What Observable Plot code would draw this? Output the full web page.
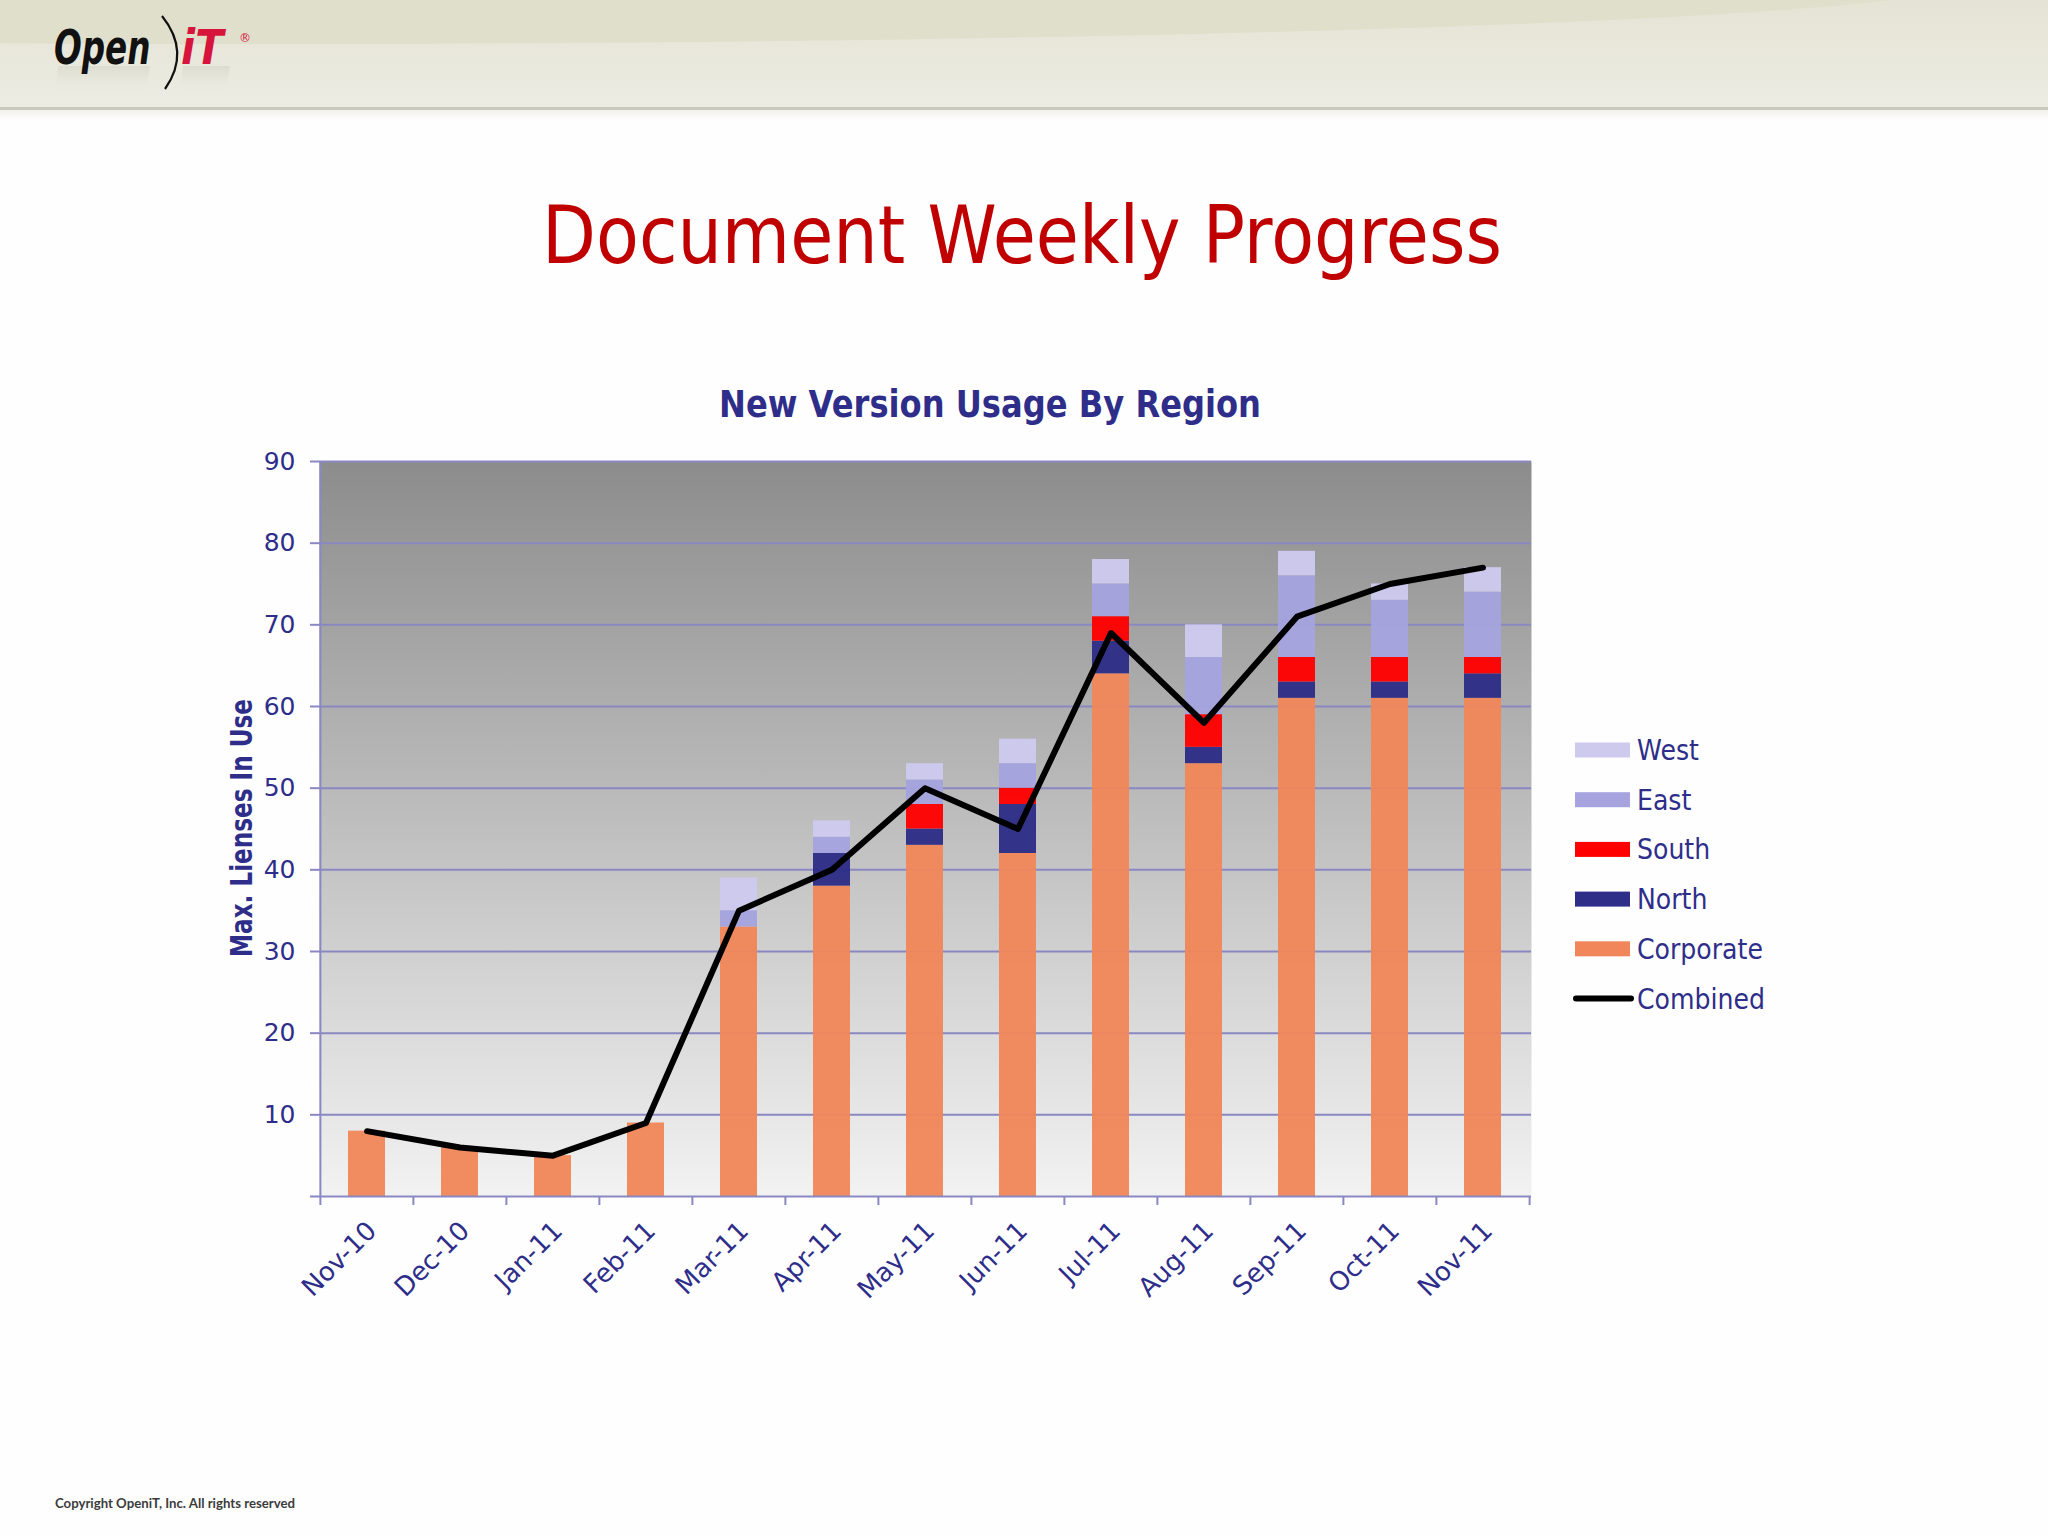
<!DOCTYPE html>
<html>
<head>
<meta charset="utf-8">
<script src="https://cdn.jsdelivr.net/npm/d3@7"></script>
<script src="https://cdn.jsdelivr.net/npm/@observablehq/plot@0.6"></script>
<style>
  html, body { margin: 0; padding: 0; }
  body { width: 2048px; height: 1536px; position: relative; background: #fefefe; overflow: hidden; font-family: "DejaVu Sans", sans-serif; }
  #overlay { position: absolute; left: 0; top: 0; z-index: 0; }
  #chart { position: absolute; left: 0; top: 440px; z-index: 1; }
</style>
</head>
<body>
<svg id="overlay" width="2048" height="1536" xmlns="http://www.w3.org/2000/svg">
  <defs>
    <linearGradient id="hdr" x1="0" y1="0" x2="0" y2="1">
      <stop offset="0" stop-color="#e4e3d4"/>
      <stop offset="1" stop-color="#edece3"/>
    </linearGradient>
    <linearGradient id="hdrShadow" x1="0" y1="0" x2="0" y2="1">
      <stop offset="0" stop-color="#f2f1ea"/>
      <stop offset="1" stop-color="#fefefe"/>
    </linearGradient>
    <linearGradient id="reflect" x1="0" y1="0" x2="0" y2="1">
      <stop offset="0" stop-color="#c4c3b8" stop-opacity="0.35"/>
      <stop offset="1" stop-color="#e9e8de" stop-opacity="0"/>
    </linearGradient>
    <clipPath id="hclip"><rect x="0" y="0" width="2048" height="108"/></clipPath>
  </defs>
  <rect x="0" y="0" width="2048" height="108" fill="url(#hdr)"/>
  <ellipse cx="250" cy="-16" rx="1700" ry="60" fill="#dfdfcb" clip-path="url(#hclip)"/>
  <rect x="0" y="107" width="2048" height="3" fill="#c9c8bd"/>
  <rect x="0" y="110" width="2048" height="10" fill="url(#hdrShadow)"/>
  <!-- logo -->
  <path d="M58 66 H150 L146 92 H56 Z M183 66 H230 L226 92 H180 Z" fill="url(#reflect)"/>
  <g id="logo">
    <g transform="translate(54,64) scale(0.68,1)">
      <text font-family="DejaVu Sans" font-weight="bold" font-style="italic" font-size="48" fill="#111">Open</text>
    </g>
    <path d="M162 16 Q 191 52 165 89" fill="none" stroke="#111" stroke-width="2.2"/>
    <g transform="translate(181,64) scale(0.86,1)">
      <text font-family="DejaVu Sans" font-weight="bold" font-style="italic" font-size="48" fill="#d7143c">iT</text>
    </g>
    <text x="239" y="42" font-family="DejaVu Sans" font-size="12" fill="#d7143c">®</text>
  </g>

  <!-- titles -->
  <text x="1022" y="263" text-anchor="middle" font-family="DejaVu Sans" font-size="80" fill="#c00000" textLength="960" lengthAdjust="spacingAndGlyphs">Document Weekly Progress</text>
  <text x="990" y="417" text-anchor="middle" font-family="DejaVu Sans" font-weight="bold" font-size="37" fill="#2e2e8a" textLength="542" lengthAdjust="spacingAndGlyphs">New Version Usage By Region</text>
  <text transform="translate(252,828) rotate(-90)" text-anchor="middle" font-family="DejaVu Sans" font-weight="bold" font-size="30" fill="#2e2e8a" textLength="258" lengthAdjust="spacingAndGlyphs">Max. Lienses In Use</text>

  <g id="legend"></g>

  <text x="55" y="1508" font-family="Lato, 'Open Sans', sans-serif" font-weight="bold" font-size="13.5" fill="#3c3c3c" textLength="240" lengthAdjust="spacingAndGlyphs">Copyright OpeniT, Inc. All rights reserved</text>
</svg>
<div id="chart"></div>
<script>
// ---------- data ----------
const months = ["Nov-10","Dec-10","Jan-11","Feb-11","Mar-11","Apr-11","May-11","Jun-11","Jul-11","Aug-11","Sep-11","Oct-11","Nov-11"];
const regions = ["Corporate","North","South","East","West"];
const corporate = [8, 6, 5, 9, 33, 38, 43, 42, 64, 53, 61, 61, 61];
const north     = [0, 0, 0, 0, 0, 4, 2, 6, 4, 2, 2, 2, 3];
const south     = [0, 0, 0, 0, 0, 0, 3, 2, 3, 4, 3, 3, 2];
const east      = [0, 0, 0, 0, 2, 2, 3, 3, 4, 7, 10, 7, 8];
const west      = [0, 0, 0, 0, 4, 2, 2, 3, 3, 4, 3, 2, 3];
const combined  = [8, 6, 5, 9, 35, 40, 50, 45, 69, 58, 71, 75, 77];
const yTicks = [0, 10, 20, 30, 40, 50, 60, 70, 80, 90];
const regionColors = ["#f0865a", "#2e2d87", "#ff0000", "#a6a3de", "#cdcaee"];
const combinedLabel = "Combined";

// ---------- build tables ----------
const series = {Corporate: corporate, North: north, South: south, East: east, West: west};
const stacked = regions.flatMap(r => months.map((m, i) => ({month: m, region: r, value: series[r][i]})));
const lineData = months.map((m, i) => ({month: m, value: combined[i]}));

// ---------- plot ----------
const W = 2048, H = 890, ML = 319, MR = 517, MT = 21, MB = 134;
const step = (W - ML - MR) / months.length;
const axisColor = "#8a88c2";
const textColor = "#2e2e8a";

const plot = Plot.plot({
  width: W, height: H,
  marginLeft: ML, marginRight: MR, marginTop: MT, marginBottom: MB,
  style: {background: "transparent", fontFamily: "'DejaVu Sans', sans-serif", color: textColor, overflow: "visible"},
  x: {domain: months, paddingInner: 0.6, paddingOuter: 0.3, label: null},
  y: {domain: [0, 90], label: null},
  color: {domain: regions, range: regionColors},
  marks: [
    Plot.frame({fill: "url(#plotBg)", stroke: "none"}),
    Plot.ruleY(yTicks.filter(d => d > 0), {stroke: axisColor, strokeWidth: 2}),
    Plot.barY(stacked, {x: "month", y: "value", fill: "region", fillOpacity: 0.96}),
    Plot.line(lineData, {x: "month", y: "value", stroke: "#000", strokeWidth: 6, strokeLinecap: "round", strokeLinejoin: "round"}),
    Plot.ruleY([0], {stroke: axisColor, strokeWidth: 2}),
    Plot.tickX([months[0]], {x: d => d, dx: -step / 2, stroke: axisColor, strokeWidth: 2}),
    Plot.axisY({ticks: yTicks, tickSize: 9, tickPadding: 15, tickFormat: d => d === 0 ? "" : d, stroke: axisColor, strokeWidth: 2, fill: textColor, fontSize: 25, label: null}),
    Plot.axisX({tickSize: 9, dx: -step / 2, stroke: axisColor, strokeWidth: 2, fill: "none", label: null}),
    Plot.axisX({ticks: [months[months.length - 1]], tickSize: 9, dx: step / 2, stroke: axisColor, strokeWidth: 2, fill: "none", label: null}),
    Plot.axisX({tickSize: 0, tickRotate: -45, tickPadding: 30, dx: 5, textAnchor: "end", fill: textColor, fontSize: 26, label: null})
  ]
});

const ns = "http://www.w3.org/2000/svg";
const defs = document.createElementNS(ns, "defs");
defs.innerHTML = '<linearGradient id="plotBg" x1="0" y1="0" x2="0" y2="1"><stop offset="0" stop-color="#8b8c8b"/><stop offset="1" stop-color="#f2f2f2"/></linearGradient>';
plot.insertBefore(defs, plot.firstChild);
document.getElementById("chart").appendChild(plot);

// ---------- legend ----------
const legend = d3.select("#legend");
const legendItems = regions.map((r, i) => ({label: r, color: regionColors[i], type: "bar"})).reverse()
  .concat([{label: combinedLabel, color: "#000", type: "line"}]);
const lx = 1575, ly0 = 750, lstep = 49.7;
legendItems.forEach((d, i) => {
  const cy = ly0 + i * lstep;
  if (d.type === "bar") {
    legend.append("rect").attr("x", lx).attr("y", cy - 7.5).attr("width", 55).attr("height", 15).attr("fill", d.color);
  } else {
    legend.append("line").attr("x1", lx + 1).attr("x2", lx + 56).attr("y1", cy).attr("y2", cy)
      .attr("stroke", d.color).attr("stroke-width", 6).attr("stroke-linecap", "round");
  }
  legend.append("g").attr("transform", `translate(1637,${cy + 10}) scale(0.9,1)`)
    .append("text").attr("font-family", "DejaVu Sans").attr("font-size", 28).attr("fill", textColor).text(d.label);
});
</script>
</body>
</html>
